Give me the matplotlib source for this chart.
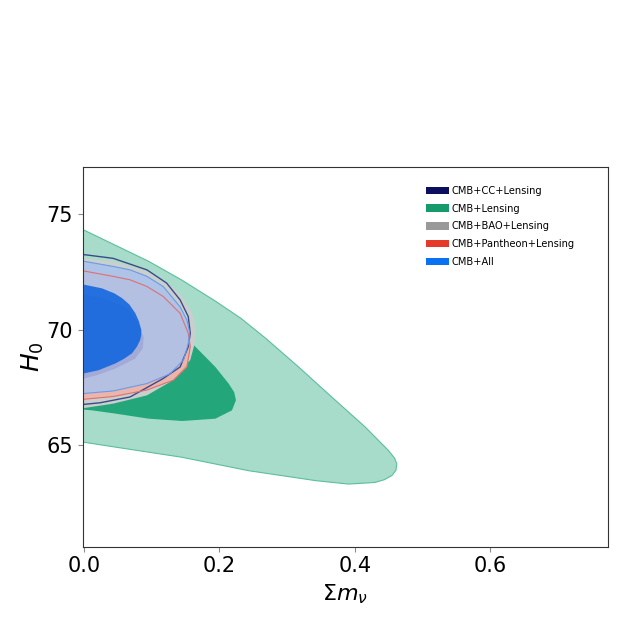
import matplotlib
matplotlib.use("Agg")
import matplotlib.pyplot as plt
from matplotlib.patches import Patch

# DATA (contour boundaries: sum of neutrino masses vs H0)
labels = ["CMB+CC+Lensing", "CMB+Lensing", "CMB+BAO+Lensing", "CMB+Pantheon+Lensing", "CMB+All"]
legend_colors = ["#0b0f5e", "#159a6c", "#999999", "#e5392a", "#0a72f0"]

# CMB+Lensing
green_2s_x = [0, 0.0955, 0.145, 0.194, 0.232, 0.268, 0.317, 0.366, 0.4155, 0.450, 0.459, 0.4623, 0.461,
              0.455, 0.444, 0.430, 0.391, 0.342, 0.243, 0.1448, 0.0463, 0]
green_2s_y = [74.32, 72.97, 72.15, 71.25, 70.5, 69.65, 68.4, 67.1, 65.8, 64.78, 64.45, 64.2, 63.93,
              63.7, 63.52, 63.4, 63.33, 63.48, 63.91, 64.49, 64.93, 65.14]
green_1s_x = [0, 0.05, 0.10, 0.14, 0.162, 0.194, 0.2137, 0.222, 0.2245, 0.2186, 0.194, 0.145,
              0.0955, 0.0463, 0.012, 0]
green_1s_y = [72.6, 72.1, 71.3, 70.3, 69.35, 68.4, 67.68, 67.3, 66.96, 66.52, 66.16, 66.06,
              66.16, 66.38, 66.52, 66.55]

# CMB+BAO+Lensing
gray_2s_x = [0, 0.043, 0.093, 0.122, 0.142, 0.155, 0.162, 0.1645, 0.165, 0.157, 0.132, 0.093, 0.043, 0]
gray_2s_y = [73.1, 72.98, 72.55, 72.1, 71.55, 71.0, 70.6, 70.0, 69.57, 68.7, 67.83, 67.17, 66.81, 66.62]

# CMB+CC+Lensing
navy_x = [0, 0.043, 0.093, 0.122, 0.142, 0.154, 0.157, 0.154, 0.142, 0.117, 0.068, 0.024, 0]
navy_y = [73.26, 73.1, 72.6, 72.03, 71.3, 70.58, 69.86, 69.27, 68.4, 67.9, 67.1, 66.85, 66.78]

# CMB+Pantheon+Lensing
red_x = [0, 0.043, 0.068, 0.093, 0.117, 0.142, 0.154, 0.157, 0.152, 0.132, 0.093, 0.043, 0]
red_y = [72.55, 72.32, 72.17, 71.88, 71.45, 70.72, 69.86, 69.27, 68.4, 67.83, 67.4, 67.12, 67.0]
red_1s_x = [0, 0.03, 0.061, 0.078, 0.088, 0.087, 0.075, 0.0463, 0.02, 0]
red_1s_y = [71.52, 71.35, 71.0, 70.4, 69.7, 69.2, 68.75, 68.33, 68.05, 67.9]

# CMB+All
blue_2s_x = [0, 0.043, 0.068, 0.093, 0.117, 0.142, 0.152, 0.156, 0.154, 0.147, 0.127, 0.093, 0.043, 0]
blue_2s_y = [72.97, 72.75, 72.6, 72.32, 71.88, 71.0, 70.43, 69.9, 69.4, 68.7, 68.1, 67.68, 67.36, 67.25]
blue_1s_x = [0, 0.0266, 0.045, 0.056, 0.067, 0.0758, 0.081, 0.0846, 0.0845, 0.083, 0.078, 0.0709,
             0.059, 0.0463, 0.0217, 0]
blue_1s_y = [71.96, 71.8, 71.58, 71.38, 71.1, 70.72, 70.38, 70.0, 69.78, 69.57, 69.27, 68.99,
             68.75, 68.55, 68.26, 68.12]

x_ticks = [0.0, 0.2, 0.4, 0.6]
y_ticks = [65, 70, 75]


def main() -> None:
    fig = plt.figure(figsize=(6.2, 6.24), dpi=100)
    ax = fig.add_axes([0.1334, 0.1239, 0.8468, 0.608])

    # green
    ax.fill(green_2s_x, green_2s_y, color="#a6dcc9", lw=0)
    ax.plot(green_2s_x, green_2s_y, color="#5bbf9b", lw=0.8)
    ax.fill(green_1s_x, green_1s_y, color="#23a77a", lw=0)

    # gray
    ax.fill(gray_2s_x, gray_2s_y, color="#c9cfcc", lw=0)

    # navy, only the outer line shows
    ax.plot(navy_x, navy_y, color="#3c4a8c", lw=1.0)

    # red
    ax.fill(red_x, red_y, color="#f3b1a6", alpha=0.85, lw=0)
    ax.plot(red_x, red_y, color="#e07070", lw=0.8)
    ax.fill(red_1s_x, red_1s_y, color="#80306a", lw=0)

    # blue
    ax.fill(blue_2s_x, blue_2s_y, color="#a9c2ec", alpha=0.85, lw=0)
    ax.plot(blue_2s_x, blue_2s_y, color="#6a9ae8", lw=0.8)
    ax.fill(blue_1s_x, blue_1s_y, color="#0b62de", alpha=0.85, lw=0)

    ax.set_xlim(-0.002, 0.774)
    ax.set_ylim(60.62, 77.04)
    ax.set_xticks(x_ticks)
    ax.set_yticks(y_ticks)
    ax.tick_params(labelsize=15, length=3.5, color="0.55")
    for sp in ax.spines.values():
        sp.set_color("#333333")

    ax.set_xlabel(r"$\Sigma m_\nu$", fontsize=16)
    ax.set_ylabel(r"$H_0$", fontsize=18, labelpad=0)

    handles = [Patch(facecolor=c, edgecolor="none") for c in legend_colors]
    fig.legend(handles, labels, loc="upper left", bbox_to_anchor=(0.687, 0.702),
               frameon=False, fontsize=7.1, borderpad=0, borderaxespad=0, handlelength=2.3,
               handleheight=0.8, handletextpad=0.3, labelspacing=0.78)

    fig.savefig("out.png", dpi=100)


if __name__ == "__main__":
    main()
